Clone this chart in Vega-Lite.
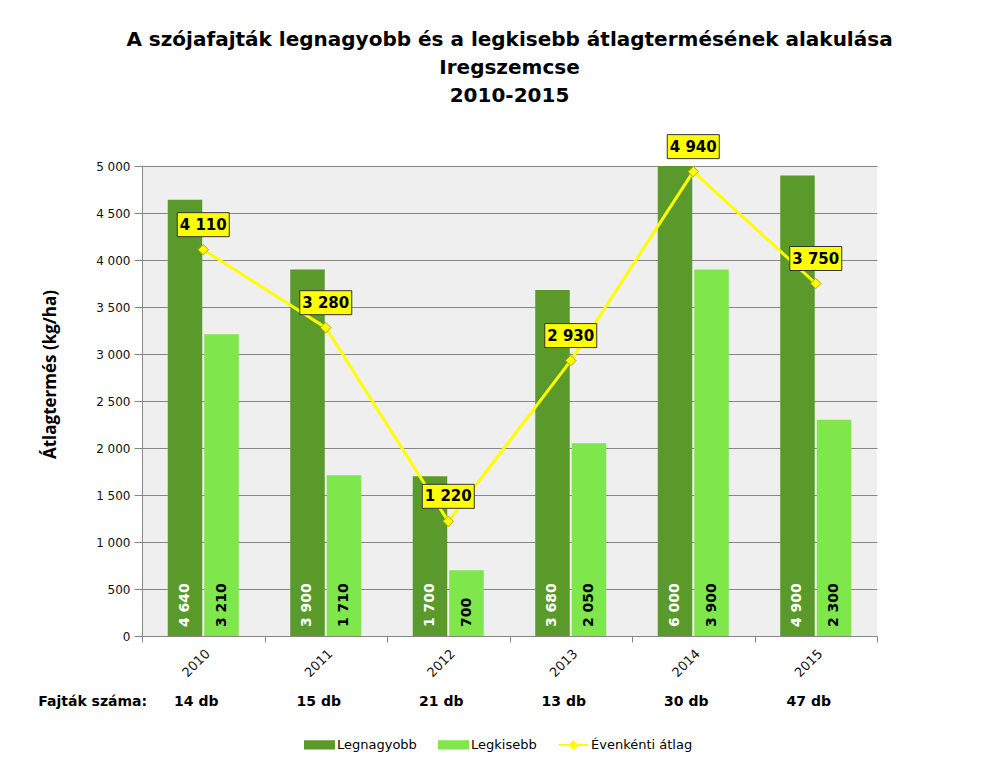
{
  "$schema": "https://vega.github.io/schema/vega-lite/v6.json",
  "width": 735,
  "height": 470,
  "autosize": {"type": "none"},
  "padding": {"left": 142, "top": 166, "right": 120, "bottom": 132},
  "background": "white",
  "config": {
    "locale": {"number": {"decimal": ",", "thousands": " ", "grouping": [3], "currency": ["", ""]}},
    "view": {"fill": "#efefef", "stroke": null},
    "font": "DejaVu Sans"
  },
  "title": {
    "text": ["A szójafajták legnagyobb és a legkisebb átlagtermésének alakulása", "Iregszemcse", "2010-2015"],
    "fontSize": 20,
    "font": "DejaVu Sans",
    "fontWeight": "bold",
    "color": "black",
    "lineHeight": 28,
    "anchor": "middle",
    "offset": 27
  },
  "datasets": {
    "bars": [
      {"year": "2010", "series": "Legnagyobb", "value": 4640},
      {"year": "2010", "series": "Legkisebb", "value": 3210},
      {"year": "2011", "series": "Legnagyobb", "value": 3900},
      {"year": "2011", "series": "Legkisebb", "value": 1710},
      {"year": "2012", "series": "Legnagyobb", "value": 1700},
      {"year": "2012", "series": "Legkisebb", "value": 700},
      {"year": "2013", "series": "Legnagyobb", "value": 3680},
      {"year": "2013", "series": "Legkisebb", "value": 2050},
      {"year": "2014", "series": "Legnagyobb", "value": 6000},
      {"year": "2014", "series": "Legkisebb", "value": 3900},
      {"year": "2015", "series": "Legnagyobb", "value": 4900},
      {"year": "2015", "series": "Legkisebb", "value": 2300}
    ],
    "avg": [
      {"year": "2010", "value": 4110},
      {"year": "2011", "value": 3280},
      {"year": "2012", "value": 1220},
      {"year": "2013", "value": 2930},
      {"year": "2014", "value": 4940},
      {"year": "2015", "value": 3750}
    ],
    "counts": [
      {"year": "2010", "n": "14 db"},
      {"year": "2011", "n": "15 db"},
      {"year": "2012", "n": "21 db"},
      {"year": "2013", "n": "13 db"},
      {"year": "2014", "n": "30 db"},
      {"year": "2015", "n": "47 db"}
    ],
    "rowlabel": [{"year": "2010", "label": "Fajták száma:"}]
  },
  "encoding": {
    "x": {
      "field": "year",
      "type": "nominal",
      "scale": {"paddingInner": 0, "paddingOuter": 0},
      "axis": {
        "title": null,
        "labelAngle": -45,
        "tickBand": "extent",
        "labelFontSize": 13,
        "labelColor": "#111111",
        "domainColor": "#868686",
        "tickColor": "#868686",
        "tickSize": 6,
        "labelPadding": 5,
        "grid": false
      }
    }
  },
  "layer": [
    {
      "data": {"name": "bars"},
      "mark": {"type": "bar", "clip": true},
      "encoding": {
        "y": {
          "field": "value",
          "type": "quantitative",
          "scale": {"domain": [0, 5000], "nice": false},
          "axis": {
            "title": "Átlagtermés (kg/ha)",
            "titleFont": "Open Sans",
            "titleFontSize": 17,
            "titleFontWeight": "bold",
            "titleColor": "black",
            "titlePadding": 36,
            "titleY": 208,
            "values": [0, 500, 1000, 1500, 2000, 2500, 3000, 3500, 4000, 4500, 5000],
            "format": ",d",
            "labelFontSize": 12,
            "labelColor": "#111111",
            "gridColor": "#868686",
            "domainColor": "#868686",
            "tickColor": "#868686",
            "tickSize": 8,
            "labelPadding": 4
          }
        },
        "xOffset": {"field": "series", "type": "nominal", "scale": {"domain": ["Legnagyobb", "Legkisebb"], "paddingInner": 0.055, "paddingOuter": 0.705}},
        "color": {
          "field": "series",
          "type": "nominal",
          "scale": {"domain": ["Legnagyobb", "Legkisebb", "Évenkénti átlag"], "range": ["#5a9a2a", "#7fe64b", "#ffff00"]},
          "legend": {
            "title": null,
            "orient": "none",
            "direction": "horizontal",
            "legendX": 162,
            "legendY": 563,
            "labelFontSize": 13,
            "labelFont": "DejaVu Sans",
            "labelColor": "black",
            "columnPadding": 18,
            "labelOffset": 2,
            "symbolSize": 841,
            "encode": {
              "symbols": {
                "update": {
                  "shape": {"signal": "datum.value === 'Évenkénti átlag' ? 'M-1,0H1M0,-0.24L0.24,0L0,0.24L-0.24,0Z' : 'M-1,-0.25H1V0.25H-1Z'"},
                  "fill": {"signal": "datum.value === 'Évenkénti átlag' ? '#ffff00' : (datum.value === 'Legnagyobb' ? '#5a9a2a' : '#7fe64b')"},
                  "stroke": {"signal": "datum.value === 'Évenkénti átlag' ? '#ffff00' : 'transparent'"},
                  "strokeWidth": {"value": 2},
                  "size": {"value": 841},
                  "opacity": {"value": 1}
                }
              }
            }
          }
        }
      }
    },
    {
      "data": {"name": "bars"},
      "mark": {"type": "text", "angle": 270, "align": "left", "baseline": "middle", "dx": 9, "fontWeight": "bold", "fontSize": 14, "font": "DejaVu Sans"},
      "encoding": {
        "xOffset": {"field": "series", "type": "nominal", "scale": {"domain": ["Legnagyobb", "Legkisebb"], "paddingInner": 0.055, "paddingOuter": 0.705}},
        "y": {"datum": 0},
        "text": {"field": "value", "type": "quantitative", "format": ",d"},
        "fill": {"condition": {"test": "datum.series === 'Legnagyobb'", "value": "white"}, "value": "black"}
      }
    },
    {
      "data": {"name": "avg"},
      "mark": {"type": "line", "strokeWidth": 3},
      "encoding": {
        "y": {"field": "value", "type": "quantitative", "title": "Átlagtermés (kg/ha)"},
        "color": {"datum": "Évenkénti átlag", "type": "nominal"}
      }
    },
    {
      "data": {"name": "avg"},
      "mark": {"type": "point", "shape": "diamond", "filled": true, "fill": "#ffff00", "stroke": "#a8a800", "strokeWidth": 1, "size": 110, "opacity": 1},
      "encoding": {
        "y": {"field": "value", "type": "quantitative", "title": "Átlagtermés (kg/ha)"}
      }
    },
    {
      "data": {"name": "avg"},
      "mark": {"type": "point", "shape": "M-1.3,-1.85H1.3V-0.65H-1.3Z", "filled": true, "fill": "#ffff00", "stroke": "#333333", "strokeWidth": 1, "size": 1600, "opacity": 1},
      "encoding": {
        "y": {"field": "value", "type": "quantitative", "title": "Átlagtermés (kg/ha)"}
      }
    },
    {
      "data": {"name": "avg"},
      "mark": {"type": "text", "dy": -25, "fontWeight": "bold", "fontSize": 15, "font": "DejaVu Sans", "color": "black", "baseline": "middle"},
      "encoding": {
        "y": {"field": "value", "type": "quantitative", "title": "Átlagtermés (kg/ha)"},
        "text": {"field": "value", "type": "quantitative", "format": ",d"}
      }
    },
    {
      "data": {"name": "counts"},
      "mark": {"type": "text", "dx": -7, "dy": 66, "fontWeight": "bold", "fontSize": 14, "font": "DejaVu Sans", "baseline": "middle"},
      "encoding": {
        "y": {"datum": 0},
        "text": {"field": "n", "type": "nominal"},
        "fill": {"value": "black"}
      }
    },
    {
      "data": {"name": "rowlabel"},
      "mark": {"type": "text", "align": "left", "dx": -165, "dy": 66, "fontWeight": "bold", "fontSize": 14, "font": "DejaVu Sans", "baseline": "middle"},
      "encoding": {
        "y": {"datum": 0},
        "text": {"field": "label", "type": "nominal"},
        "fill": {"value": "black"}
      }
    }
  ]
}
